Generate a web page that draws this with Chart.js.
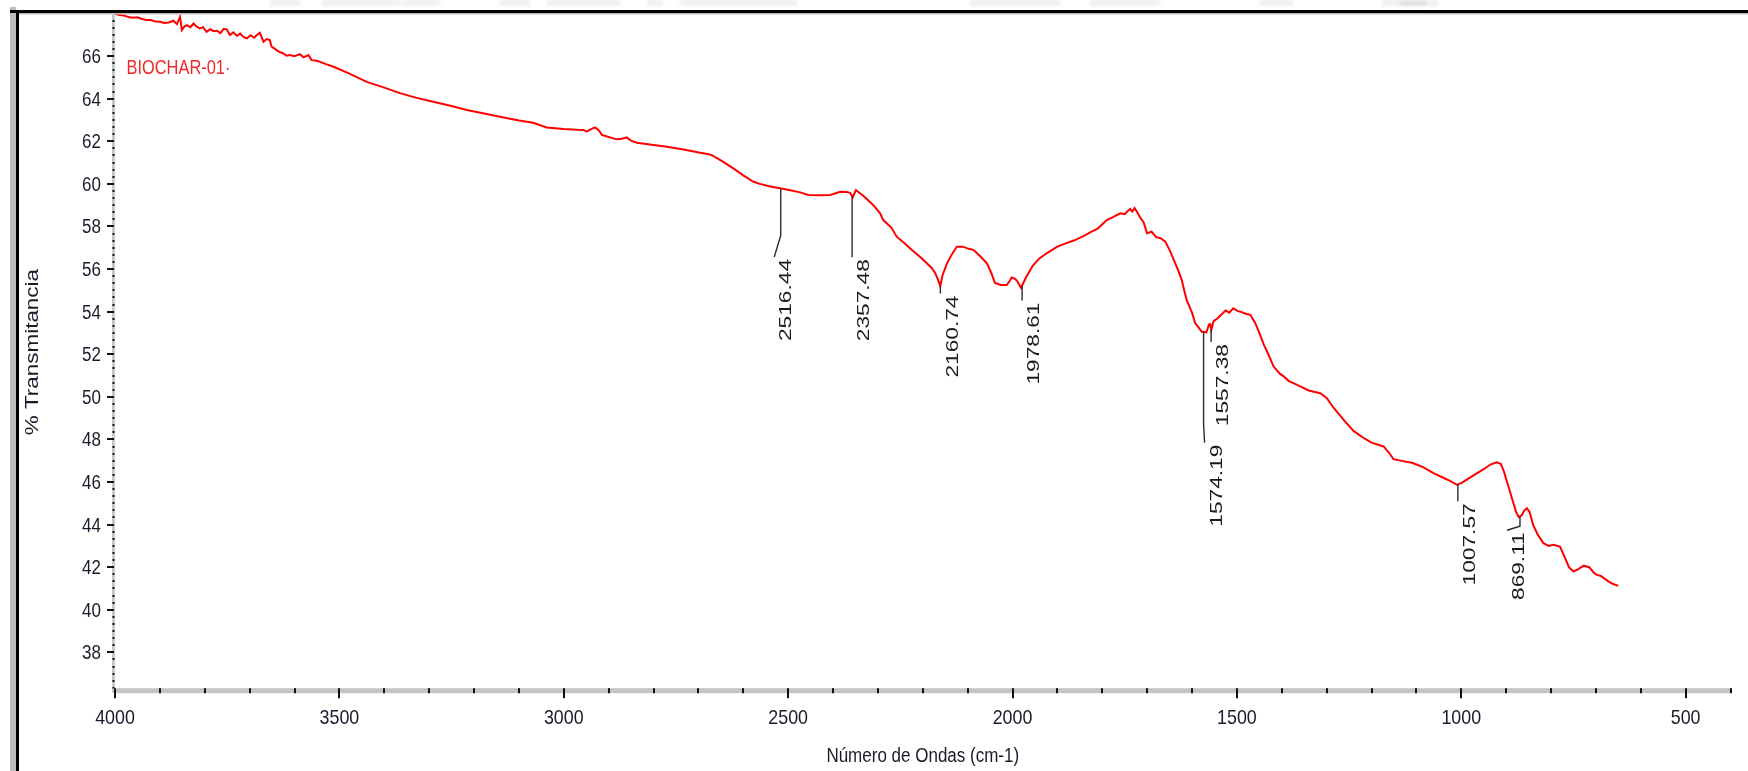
<!DOCTYPE html>
<html>
<head>
<meta charset="utf-8">
<title>BIOCHAR-01 FTIR</title>
<script src="https://cdn.jsdelivr.net/npm/chart.js@4.4.1/dist/chart.umd.min.js"></script>
<style>
  html, body { margin: 0; padding: 0; background: #ffffff; overflow: hidden; }
  #wrap { width: 1748px; height: 771px; position: relative; }
  canvas { display: block; }
</style>
</head>
<body>
<div id="wrap"><canvas id="spectrum" width="1748" height="771"></canvas></div>
<script>
// ---- Spectrum data (wavenumber in cm-1, % transmittance) ----
const WAVENUMBER = [
  4000, 3990, 3980, 3970, 3960, 3950, 3940, 3930, 3920, 3910,
  3900, 3890, 3880, 3870, 3862, 3855, 3851, 3845, 3840, 3832,
  3825, 3818, 3811, 3804, 3796, 3788, 3780, 3773, 3765, 3758,
  3751, 3744, 3736, 3728, 3721, 3714, 3706, 3698, 3690, 3684,
  3677, 3669, 3662, 3655, 3651, 3645, 3640, 3632, 3625, 3618,
  3610, 3600, 3588, 3580, 3569, 3562, 3550, 3543, 3530, 3513,
  3480, 3439, 3400, 3365, 3330, 3291, 3250, 3216, 3180, 3142,
  3100, 3068, 3038, 3000, 2970, 2956, 2949, 2938, 2930, 2922,
  2915, 2900, 2882, 2870, 2860, 2850, 2837, 2800, 2770, 2730,
  2696, 2680, 2670, 2650, 2622, 2600,
  2577, 2563, 2540, 2518, 2495, 2473, 2455, 2430, 2406, 2384,
  2370, 2362, 2356, 2349, 2340, 2332, 2310, 2295, 2288, 2270,
  2258, 2240, 2224, 2205, 2191, 2180, 2172, 2166, 2161, 2156,
  2146, 2135, 2124, 2110, 2098, 2087, 2072, 2057, 2048, 2039,
  2026, 2013, 2006, 2002, 1995, 1990, 1981, 1970, 1955, 1940,
  1924, 1900, 1880, 1862, 1842, 1825, 1810, 1790, 1775, 1760,
  1750, 1742, 1738, 1733, 1728, 1723, 1715, 1708, 1700,
  1690, 1680, 1670, 1660, 1650, 1640, 1630, 1623, 1612, 1600,
  1593, 1585, 1578, 1574, 1568, 1562, 1560, 1557, 1552, 1545,
  1535, 1525, 1517, 1508, 1500, 1493, 1480, 1470, 1459, 1450,
  1440, 1430, 1418, 1405, 1395, 1385, 1374, 1360, 1340, 1314,
  1300, 1285, 1262, 1240, 1220, 1200, 1173, 1160, 1151, 1130,
  1110, 1085, 1062, 1040, 1025, 1010, 1000, 985, 970, 950,
  935, 921, 912, 905, 895, 885, 878, 872, 865, 860,
  854, 848, 840, 830, 817, 805, 795, 780, 770, 760,
  750, 740, 727, 715, 705, 698, 690, 680, 670, 660,
  650
];
const TRANSMITTANCE = [
  67.99, 67.93, 67.90, 67.84, 67.80, 67.82, 67.74, 67.70, 67.69, 67.62,
  67.61, 67.55, 67.58, 67.66, 67.50, 67.84, 67.22, 67.40, 67.45, 67.36,
  67.53, 67.38, 67.30, 67.36, 67.14, 67.26, 67.17, 67.19, 67.08, 67.28,
  67.25, 66.99, 67.12, 66.95, 67.06, 66.90, 66.83, 66.98, 66.86, 66.99,
  67.09, 66.67, 66.80, 66.75, 66.44, 66.36, 66.28, 66.18, 66.13, 66.02,
  66.05, 65.99, 66.09, 65.94, 66.05, 65.81, 65.78, 65.73, 65.62, 65.50,
  65.20, 64.79, 64.52, 64.26, 64.05, 63.86, 63.66, 63.47, 63.32, 63.15,
  62.98, 62.87, 62.65, 62.58, 62.54, 62.53, 62.45, 62.58, 62.65, 62.52,
  62.30, 62.20, 62.09, 62.12, 62.18, 62.03, 61.93, 61.83, 61.74, 61.60,
  61.46, 61.40, 61.35, 61.10, 60.73, 60.40,
  60.10, 60.00, 59.88, 59.79, 59.70, 59.60, 59.48, 59.47, 59.48, 59.63,
  59.62, 59.58, 59.37, 59.71, 59.56, 59.43, 59.00, 58.62, 58.30, 57.95,
  57.52, 57.20, 56.90, 56.55, 56.27, 56.05, 55.80, 55.50, 55.20, 55.70,
  56.27, 56.70, 57.05, 57.05, 56.95, 56.90, 56.60, 56.27, 55.85, 55.35,
  55.25, 55.25, 55.45, 55.60, 55.55, 55.45, 55.12, 55.60, 56.15, 56.50,
  56.74, 57.05, 57.22, 57.35, 57.55, 57.75, 57.90, 58.30, 58.45, 58.62,
  58.58, 58.75, 58.82, 58.70, 58.86, 58.70, 58.40, 58.20, 57.68,
  57.75, 57.50, 57.45, 57.30, 56.90, 56.40, 55.90, 55.49, 54.55, 53.95,
  53.46, 53.25, 53.05, 53.06, 53.02, 53.40, 53.46, 53.14, 53.55, 53.65,
  53.85, 54.05, 53.95, 54.16, 54.05, 54.00, 53.90, 53.85, 53.46, 53.00,
  52.45, 52.00, 51.42, 51.10, 50.95, 50.75, 50.64, 50.50, 50.30, 50.17,
  49.95, 49.50, 48.92, 48.40, 48.10, 47.85, 47.67, 47.35, 47.07, 46.98,
  46.90, 46.70, 46.42, 46.20, 46.05, 45.87, 45.95, 46.15, 46.35, 46.60,
  46.82, 46.92, 46.85, 46.50, 45.80, 45.10, 44.60, 44.35, 44.45, 44.65,
  44.77, 44.60, 44.00, 43.55, 43.13, 43.00, 43.05, 42.97, 42.50, 42.00,
  41.80, 41.90, 42.07, 42.00, 41.75, 41.64, 41.60, 41.45, 41.30, 41.20,
  41.12
];
const SAMPLE_NAME = 'BIOCHAR-01·';
// Peak picks (cm-1)
const PEAKS = [2516.44, 2357.48, 2160.74, 1978.61, 1574.19, 1557.38, 1007.57, 869.11];
// Axis ticks
const X_TICKS = [4000, 3500, 3000, 2500, 2000, 1500, 1000, 500];
const Y_TICKS = [38, 40, 42, 44, 46, 48, 50, 52, 54, 56, 58, 60, 62, 64, 66];
const X_TITLE = 'Número de Ondas (cm-1)';
const Y_TITLE = '% Transmitancia';

// ---- helpers ----
const SANS = '"Liberation Sans", Arial, sans-serif';
const INK = '#1b1b2b';

function stretchedText(ctx, text, x, y, o) {
  ctx.save();
  ctx.translate(x, y);
  if (o.rot) ctx.rotate(o.rot);
  ctx.scale(o.sx || 1, 1);
  ctx.font = o.size + 'px ' + SANS;
  ctx.fillStyle = o.color || INK;
  ctx.textAlign = o.align || 'left';
  ctx.textBaseline = o.baseline || 'alphabetic';
  ctx.fillText(text, 0, 0);
  ctx.restore();
}

function valueAt(wn) {
  for (let i = 0; i < WAVENUMBER.length - 1; i++) {
    const a = WAVENUMBER[i], b = WAVENUMBER[i + 1];
    if (wn <= a && wn >= b) {
      const t = (a - wn) / (a - b);
      return TRANSMITTANCE[i] + t * (TRANSMITTANCE[i + 1] - TRANSMITTANCE[i]);
    }
  }
  return TRANSMITTANCE[TRANSMITTANCE.length - 1];
}

// leader line styling for each peak pick: vertical drop (px) and optional bend
const LEADERS = [
  { drop: 47, bend: [-6.5, 21.5] },
  { drop: 61 },
  { drop: 8 },
  { drop: 15 },
  { drop: 93, bend: [1, 18] },
  { drop: 13 },
  { drop: 17 },
  { drop: 10, bend: [-13, 4] }
];

// ---- decorations: frame, axis rails, tick labels, peak labels, titles ----
const spectrumDecor = {
  id: 'spectrumDecor',
  beforeDraw(chart) {
    const ctx = chart.ctx;
    ctx.save();
    ctx.fillStyle = '#ffffff';
    ctx.fillRect(0, 0, chart.width, chart.height);
    // faint residue strip above the frame
    ctx.filter = 'blur(1.5px)';
    ctx.fillStyle = 'rgba(0,0,0,0.06)';
    [[270, 300], [322, 400], [402, 440], [500, 530], [547, 620], [647, 663], [680, 797],
     [970, 1060], [1090, 1160], [1260, 1293], [1382, 1438], [1400, 1427]].forEach(([a, b]) => {
      ctx.fillRect(a, 0, b - a, 6);
    });
    ctx.restore();
  },
  beforeDatasetsDraw(chart) {
    const { ctx, chartArea: area, scales: { x, y } } = chart;
    ctx.save();
    // y rail with dotted minor ticks
    ctx.fillStyle = '#c8c8c8';
    ctx.fillRect(area.left - 3, area.top, 3, area.bottom - area.top + 2);
    ctx.fillStyle = '#111111';
    for (let k = Math.ceil(y.min * 3); k <= Math.floor(y.max * 3); k++) {
      const v = k / 3;
      if (Math.abs(v / 2 - Math.round(v / 2)) < 1e-6) continue;
      const py = y.getPixelForValue(v);
      ctx.fillRect(area.left - 2.5, Math.round(py) - 1, 2, 2);
    }
    Y_TICKS.forEach(v => {
      const py = Math.round(y.getPixelForValue(v));
      ctx.fillRect(area.left - 8, py - 1, 7, 2);
      stretchedText(ctx, String(v), area.left - 14, py + 7.2, { size: 20, sx: 0.85, align: 'right' });
    });
    // x rail with ticks every 100 cm-1
    ctx.fillStyle = '#c4c4c4';
    ctx.fillRect(area.left - 2, area.bottom - 2.5, area.right - area.left + 3, 5);
    ctx.fillStyle = '#111111';
    for (let w = x.min; w <= x.max; w += 100) {
      const px = Math.round(x.getPixelForValue(w));
      const major = X_TICKS.includes(w);
      ctx.fillRect(px - 1, area.bottom - 2.5, 2, major ? 10 : 5);
    }
    X_TICKS.forEach(v => {
      const px = x.getPixelForValue(v);
      stretchedText(ctx, String(v), px, area.bottom + 33.5, { size: 21, sx: 0.85, align: 'center' });
    });
    ctx.restore();
  },
  afterDatasetsDraw(chart) {
    const { ctx, scales: { x, y } } = chart;
    ctx.save();
    PEAKS.forEach((wn, i) => {
      const L = LEADERS[i];
      const px = x.getPixelForValue(wn);
      const py = y.getPixelForValue(valueAt(wn));
      let ex = px, ey = py + L.drop;
      ctx.strokeStyle = '#2b2b2b';
      ctx.lineWidth = 1.4;
      ctx.beginPath();
      ctx.moveTo(px, py);
      ctx.lineTo(ex, ey);
      if (L.bend) { ex += L.bend[0]; ey += L.bend[1]; ctx.lineTo(ex, ey); }
      ctx.stroke();
      // rotated label: glyph tops start just right of the leader end
      stretchedText(ctx, wn.toFixed(2), ex + 5 + 12.2, ey + 2, {
        size: 17, sx: 1.335, rot: -Math.PI / 2, align: 'right', color: '#1b1b1b'
      });
    });
    ctx.restore();
  },
  afterDraw(chart) {
    const { ctx, chartArea: area } = chart;
    ctx.save();
    // sample name
    stretchedText(ctx, chart.data.datasets[0].label, 126.5, 74, { size: 20, sx: 0.82, color: '#f02a2a' });
    // axis titles
    stretchedText(ctx, X_TITLE, (area.left + area.right) / 2, 762, { size: 20, sx: 0.85, align: 'center' });
    stretchedText(ctx, Y_TITLE, 37.9, (area.top + area.bottom) / 2, { size: 18, sx: 1.246, rot: -Math.PI / 2, align: 'center' });
    // window frame
    ctx.fillStyle = '#bdbdbd';
    ctx.fillRect(10, 7, 6, chart.height - 7);
    ctx.fillRect(10, 13, chart.width - 10, 1.5);
    ctx.fillStyle = '#000000';
    ctx.fillRect(16, 10, 3, chart.height - 10);
    ctx.fillRect(10, 10, chart.width - 10, 3);
    ctx.restore();
  }
};

new Chart(document.getElementById('spectrum'), {
  type: 'line',
  data: {
    datasets: [{
      label: SAMPLE_NAME,
      data: WAVENUMBER.map((w, i) => ({ x: w, y: TRANSMITTANCE[i] })),
      borderColor: '#ff0000',
      borderWidth: 2,
      pointRadius: 0,
      tension: 0,
      fill: false
    }]
  },
  options: {
    responsive: false,
    animation: false,
    devicePixelRatio: 1,
    layout: { padding: { top: 13.5, right: 17.5, left: 0, bottom: 0 } },
    plugins: { legend: { display: false }, tooltip: { enabled: false } },
    scales: {
      x: {
        type: 'linear',
        position: 'bottom',
        reverse: true,
        min: 400,
        max: 4000,
        afterBuildTicks: s => { s.ticks = X_TICKS.map(v => ({ value: v })); },
        afterFit: s => { s.height = 80.3; s.paddingLeft = 0; s.paddingRight = 0; },
        grid: { display: false, drawTicks: false },
        border: { display: false },
        ticks: { display: false }
      },
      y: {
        type: 'linear',
        position: 'left',
        min: 36.2,
        max: 68,
        afterBuildTicks: s => { s.ticks = Y_TICKS.map(v => ({ value: v })); },
        afterFit: s => { s.width = 115; s.paddingTop = 0; s.paddingBottom = 0; },
        grid: { display: false, drawTicks: false },
        border: { display: false },
        ticks: { display: false }
      }
    }
  },
  plugins: [spectrumDecor]
});
</script>
</body>
</html>
